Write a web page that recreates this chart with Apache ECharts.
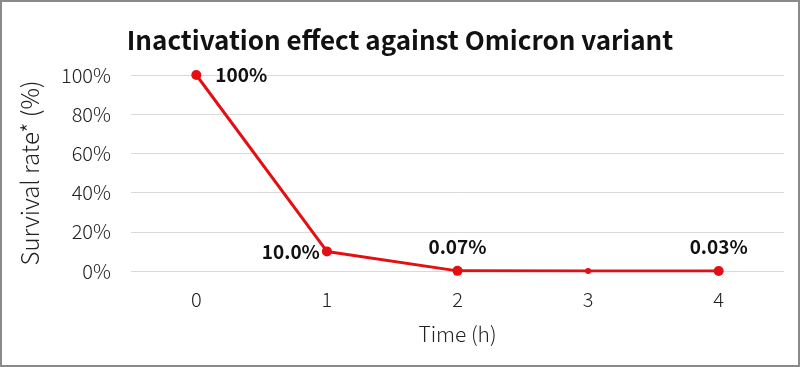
<!DOCTYPE html>
<html><head><meta charset="utf-8">
<script src="https://cdn.jsdelivr.net/npm/echarts@6/dist/echarts.min.js"></script>
<style>html,body{margin:0;padding:0;background:#fff}#c{width:800px;height:367px;box-sizing:border-box;border:2px solid #8a8a8a}</style>
</head><body><div id="c"></div>
<script>
const categories = ['0', '1', '2', '3', '4'];
const survival = [100, 10.0, 0.07, 0.05, 0.03];
const pointLabels = ['100%', '10.0%', '0.07%', '', '0.03%'];
const yTicks = [0, 20, 40, 60, 80, 100];

const font = '"Noto Sans CJK JP", "Noto Sans", sans-serif';
const labelPos = ['right', 'left', 'top', 'top', 'top'];
const chart = echarts.init(document.getElementById('c'));
chart.setOption({
  animation: false,
  title: {text: 'Inactivation effect against Omicron variant', left: 'center', top: 20,
    textStyle: {fontFamily: font, fontSize: 26, fontWeight: 'bold', color: '#111'}},
  grid: {left: 129, right: 14, top: 73, bottom: 94},
  xAxis: {type: 'category', data: categories, boundaryGap: true,
    name: 'Time (h)', nameLocation: 'middle', nameGap: 53,
    nameTextStyle: {fontFamily: font, fontSize: 21, fontWeight: 300, color: '#222'},
    axisLine: {show: false}, axisTick: {show: false},
    axisLabel: {fontFamily: font, fontSize: 20, fontWeight: 300, color: '#222', margin: 18}},
  yAxis: {type: 'value', min: 0, max: 100, interval: 20,
    name: 'Survival rate* (%)', nameLocation: 'middle', nameGap: 89,
    nameTextStyle: {fontFamily: font, fontSize: 24, fontWeight: 300, color: '#222'},
    axisLabel: {fontFamily: font, fontSize: 20, fontWeight: 300, color: '#222', margin: 20,
      formatter: v => yTicks.includes(v) ? v + '%' : ''},
    splitLine: {lineStyle: {color: '#d9d9d9', width: 1}}},
  series: [{type: 'line', data: survival.map((v, i) => ({
      value: v, symbolSize: i === 3 ? 6 : 10,
      label: {show: pointLabels[i] !== '', position: labelPos[i], formatter: pointLabels[i],
        distance: i === 0 ? 14 : (i === 1 ? 2 : 10)}
    })),
    symbol: 'circle', lineStyle: {color: '#e30f13', width: 3},
    itemStyle: {color: '#e30f13'},
    label: {fontFamily: font, fontSize: 19, fontWeight: 'bold', color: '#111'}}]
});
</script></body></html>
